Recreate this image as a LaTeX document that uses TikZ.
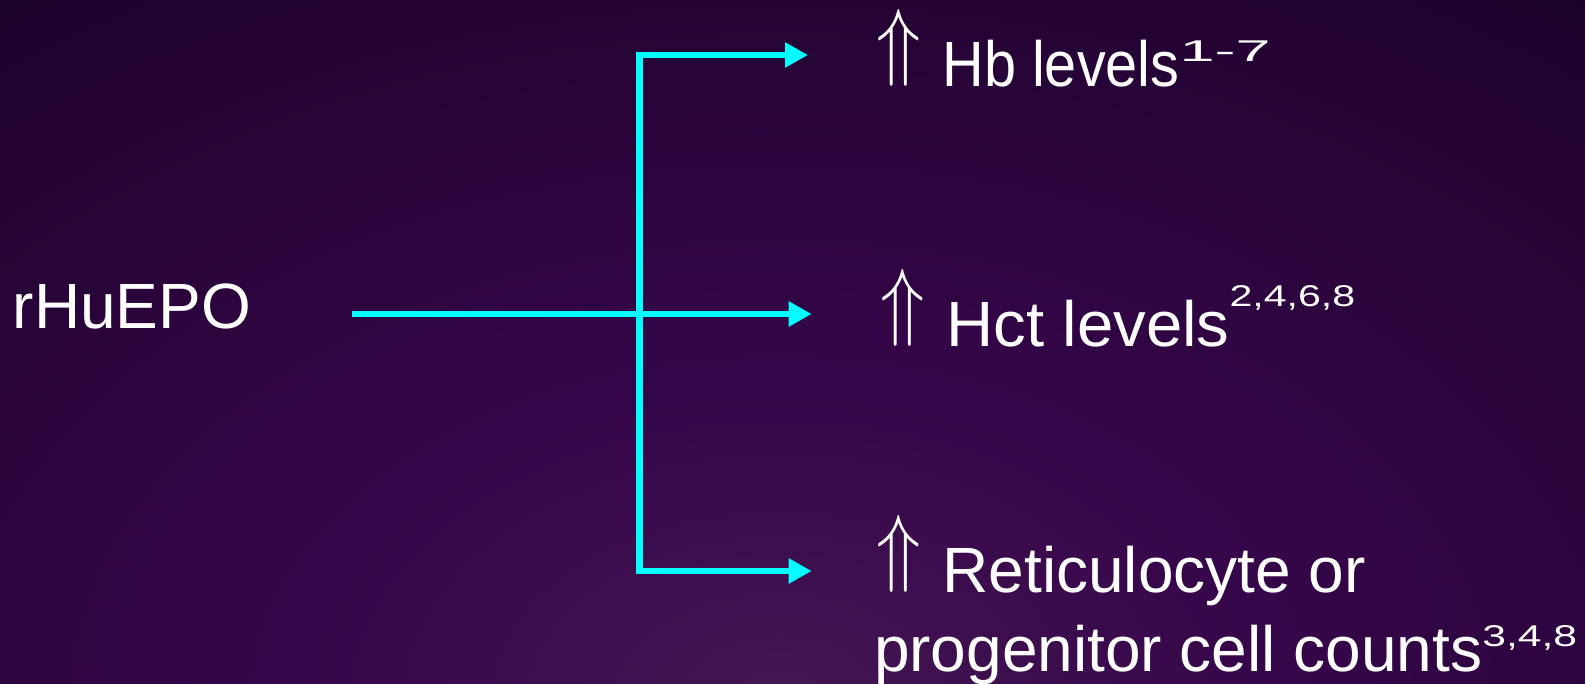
\documentclass[tikz,border=0pt]{standalone}
\usepackage{fontspec}
\setmainfont{Liberation Sans}
\usetikzlibrary{arrows.meta}
\definecolor{bgin}{RGB}{68,22,82}
\definecolor{bgmid}{RGB}{54,6,74}
\definecolor{bgout}{RGB}{28,2,42}
\definecolor{linecyan}{RGB}{0,255,255}
\pgfdeclareradialshading{bgshade}{\pgfpoint{0bp}{0bp}}{%
  color(0bp)=(bgin); color(6bp)=(bgmid); color(17bp)=(bgout); color(50bp)=(bgout)}
\newcommand\UpA{\raisebox{16.8pt}{\scalebox{7.3}[8.67]{\fontsize{10}{12}\selectfont$\Uparrow$}}\hspace{22pt}}
\newcommand\Sup[3]{\raisebox{#1pt}{\scalebox{#2}[1]{\fontsize{30}{30}\selectfont #3}}}
\newcommand\Wd[2]{\scalebox{#1}[1]{#2}}
\tikzset{
  lbl/.style={anchor=base west, inner sep=0pt, outer sep=0pt, text=white,
              font=\fontsize{64}{77}\selectfont},
  conn/.style={draw=linecyan, line width=6.8pt, line join=miter,
               >={Triangle[length=23pt, width=24pt]}}
}
\begin{document}
\begin{tikzpicture}[x=1pt, y=-1pt]
\useasboundingbox (0,0) rectangle (1585,684);
\begin{scope}
\clip (0,0) rectangle (1585,684);
\fill[bgout] (0,0) rectangle (1585,684);
\shade[shading=bgshade] (780,700) ellipse [x radius=2000, y radius=1300];
\end{scope}
% text nodes
\node[lbl] (epo) at (12.8,329) {rHuEPO};
\node[lbl] (hb)  at (876,86.7) {\UpA\Wd{0.9}{Hb levels}\Sup{25}{2.1}{1-7}};
\node[lbl] (hct) at (880,346.7) {\UpA\Wd{1.02}{Hct levels}\Sup{40}{1.37}{2,4,6,8}};
\node[lbl] (ret) at (876,592) {\UpA Reticulocyte or};
\node[lbl] (prog) at (874,671.5) {progenitor cell counts\Sup{25}{1.42}{3,4,8}};
% connector coordinates
\coordinate (src) at (352,314);
\coordinate (t1) at (808,55);
\coordinate (t2) at (811.7,314);
\coordinate (t3) at (811.7,571);
\coordinate (vb) at (639.5,571);
% connectors
\draw[conn, <->] (t1) -| (vb) -- (t3);
\draw[conn, ->] (src) -- (t2);
\end{tikzpicture}
\end{document}
